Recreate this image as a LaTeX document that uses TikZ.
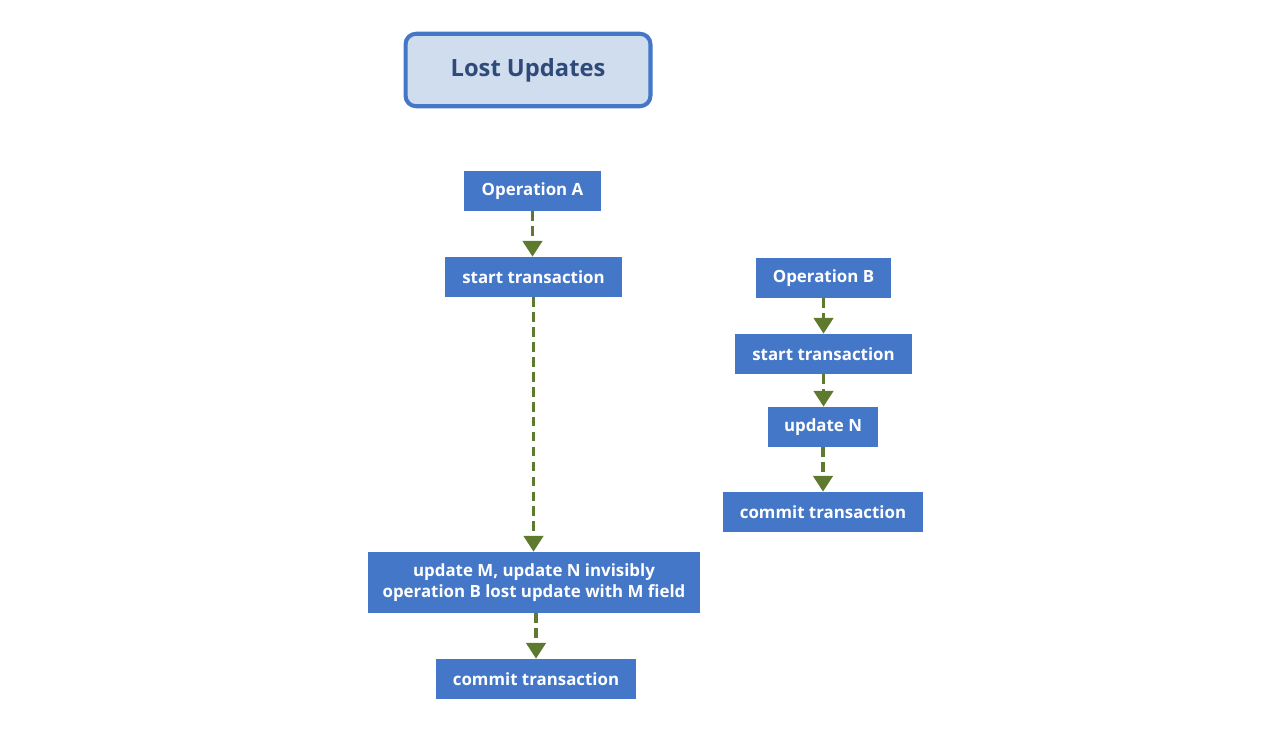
\documentclass[tikz,border=0pt]{standalone}
\usepackage{fontspec}
\setmainfont{Open Sans}
\usepackage{xcolor}
\usetikzlibrary{arrows.meta}
\definecolor{stepblue}{HTML}{4477C8}
\definecolor{titlefill}{HTML}{D0DDEE}
\definecolor{titletext}{HTML}{2F4A78}
\definecolor{flowgreen}{HTML}{5E7A2E}

\begin{document}
\begin{tikzpicture}[x=0.02cm,y=-0.02cm,
    step node/.style={rectangle, fill=stepblue, text=white, font=\bfseries\fontsize{9.6}{11.5}\selectfont, minimum height=0.8cm, inner sep=0pt, align=center},
    flow/.style={draw=flowgreen, line width=2pt, dash pattern=on 5.5pt off 3pt, -{Triangle[width=11pt,length=9pt]}, shorten >=0pt}]
    \useasboundingbox (0,0) rectangle (1280,745);
			% Title
			\node [rectangle, rounded corners=6pt, draw=stepblue, line width=2.3pt, fill=titlefill, text=titletext, font=\bfseries\fontsize{13.5}{16}\selectfont, minimum width=4.9cm, minimum height=1.45cm] (title) at (528,70) {Lost Updates};
			
			% Operation A
			\node [step node, minimum width=2.74cm] (opA) at (532.5,191) {Operation A};
			\node [step node, minimum width=3.54cm] (startA) at (533.5,277) {start transaction};
			\node [step node, minimum width=6.64cm, minimum height=1.22cm] (updM) at (534,582.5) {update M, update N invisibly\\operation B lost update with M field};
			\node [step node, minimum width=4cm] (commitA) at (536,679) {commit transaction};
			
			% Operation B
			\node [step node, minimum width=2.7cm] (opB) at (823.5,278) {Operation B};
			\node [step node, minimum width=3.54cm] (startB) at (823.5,354) {start transaction};
			\node [step node, minimum width=2.2cm] (updN) at (823,427) {update N};
			\node [step node, minimum width=4cm] (commitB) at (823,512) {commit transaction};
			
			\draw [flow] (opA.south) -- (opA.south |- startA.north);
			\draw [flow] (startA.south) -- (startA.south |- updM.north);
			\draw [flow] (commitA.north |- updM.south) -- (commitA.north);
			\draw [flow] (opB.south) -- (opB.south |- startB.north);
			\draw [flow] (startB.south) -- (startB.south |- updN.north);
			\draw [flow] (updN.south) -- (updN.south |- commitB.north);
			
		\end{tikzpicture}
\end{document}
